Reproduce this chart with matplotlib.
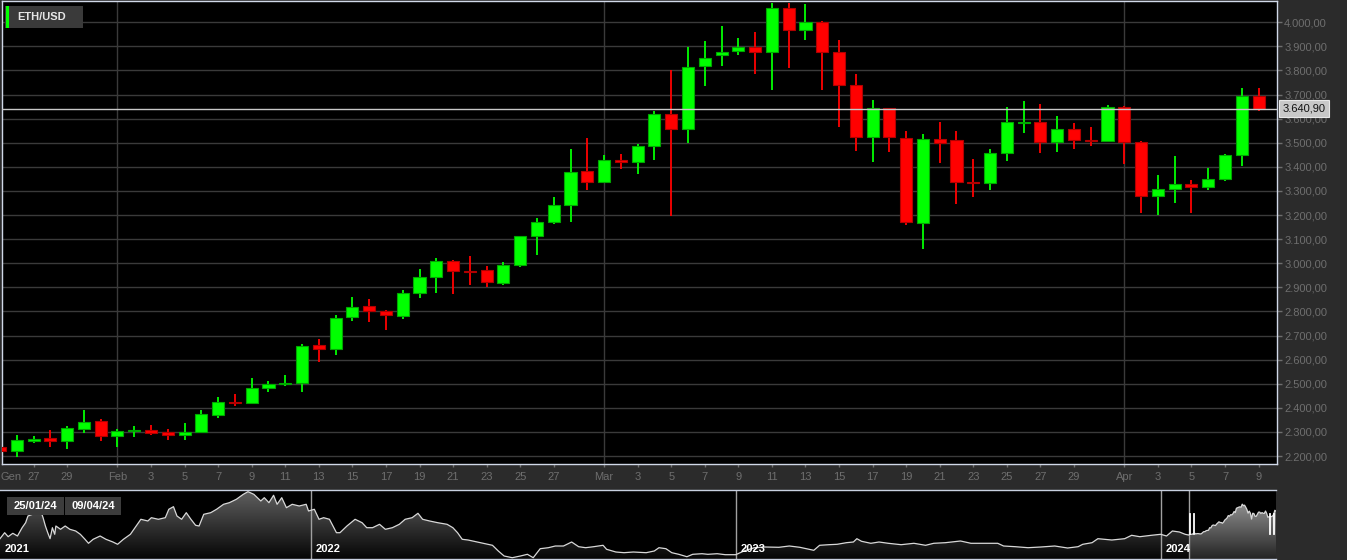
import numpy as np
import pandas as pd
import matplotlib
matplotlib.use('Agg')
import matplotlib.pyplot as plt
import matplotlib.dates as mdates
from matplotlib.patches import Polygon, Rectangle

plt.rcParams['font.family'] = ['Liberation Sans', 'DejaVu Sans']

# daily ETH/USD candles, 25 Jan - 9 Apr 2024
dates = pd.date_range('2024-01-25', '2024-04-09', freq='D')
opens = [2239, 2221, 2263, 2274, 2264, 2313, 2345,
         2283, 2304, 2307, 2298, 2288, 2300, 2372, 2426, 2422, 2483, 2497, 2505, 2659, 2644,
         2775, 2822, 2800, 2783, 2877, 2944, 3009, 2967, 2971, 2920, 2993, 3112, 3173, 3240, 3381,
         3339, 3430, 3419, 3487, 3619, 3556, 3818, 3866, 3880, 3899, 3877, 4057, 3968, 4001, 3878,
         3741, 3522, 3643, 3519, 3165, 3517, 3510, 3336, 3331, 3458, 3582, 3584, 3501, 3556, 3511, 3509,
         3650, 3505, 3280, 3310, 3327, 3317, 3350, 3451, 3693]
highs = [2246, 2286, 2283, 2307, 2324, 2390, 2353,
         2312, 2324, 2327, 2312, 2337, 2390, 2444, 2456, 2522, 2513, 2538, 2665, 2687, 2784,
         2858, 2850, 2806, 2890, 2975, 3020, 3013, 3032, 2989, 3006, 3113, 3189, 3273, 3476, 3518,
         3451, 3455, 3495, 3631, 3803, 3899, 3924, 3986, 3936, 3960, 4081, 4081, 4077, 4007, 3928,
         3787, 3679, 3645, 3547, 3538, 3588, 3547, 3433, 3472, 3650, 3675, 3662, 3610, 3583, 3567, 3658,
         3652, 3507, 3368, 3443, 3347, 3396, 3455, 3729, 3725]
lows = [2160, 2197, 2253, 2237, 2230, 2297, 2263,
        2239, 2280, 2286, 2265, 2268, 2298, 2356, 2406, 2420, 2466, 2489, 2466, 2591, 2620,
        2760, 2755, 2722, 2770, 2854, 2875, 2871, 2908, 2902, 2908, 2985, 3036, 3161, 3173, 3302,
        3335, 3391, 3370, 3430, 3198, 3500, 3736, 3818, 3866, 3787, 3720, 3812, 3928, 3720, 3566,
        3466, 3418, 3462, 3157, 3061, 3414, 3246, 3273, 3303, 3423, 3542, 3459, 3463, 3472, 3488, 3505,
        3410, 3210, 3200, 3251, 3209, 3303, 3340, 3405, 3631]
closes = [2221, 2265, 2269, 2264, 2315, 2342, 2284,
          2304, 2308, 2296, 2287, 2301, 2374, 2425, 2421, 2481, 2497, 2502, 2658, 2643, 2774,
          2819, 2803, 2786, 2876, 2941, 3009, 2968, 2965, 2923, 2993, 3112, 3170, 3240, 3379, 3339,
          3430, 3419, 3487, 3620, 3558, 3815, 3850, 3878, 3899, 3878, 4057, 3968, 3999, 3878, 3741,
          3522, 3646, 3522, 3170, 3517, 3500, 3335, 3333, 3457, 3584, 3586, 3501, 3556, 3512, 3508, 3650,
          3505, 3278, 3310, 3327, 3317, 3350, 3449, 3693, 3640.90]

y_ticks = list(range(2200, 4001, 100))
tick_dates = ['2024-01-27', '2024-01-29',
              '2024-02-01', '2024-02-03', '2024-02-05', '2024-02-07', '2024-02-09', '2024-02-11',
              '2024-02-13', '2024-02-15', '2024-02-17', '2024-02-19', '2024-02-21', '2024-02-23',
              '2024-02-25', '2024-02-27',
              '2024-03-01', '2024-03-03', '2024-03-05', '2024-03-07', '2024-03-09', '2024-03-11',
              '2024-03-13', '2024-03-15', '2024-03-17', '2024-03-19', '2024-03-21', '2024-03-23',
              '2024-03-25', '2024-03-27', '2024-03-29',
              '2024-04-01', '2024-04-03', '2024-04-05', '2024-04-07', '2024-04-09']
month_names = {1: 'Gen', 2: 'Feb', 3: 'Mar', 4: 'Apr'}

# navigator history (close, days after 2021-04-09)
nav_start = '2021-04-09'
nav_end = '2024-04-09'
nav_days = [0, 4, 7, 11, 15, 19, 22, 24, 28, 32,
            35, 37, 39, 41, 43, 45, 47, 48, 52, 56,
            60, 65, 69, 73, 76, 80, 86, 91, 97, 101,
            106, 112, 117, 121, 127, 130, 136, 142, 145, 149,
            152, 156, 160, 164, 168, 171, 175, 181, 186, 192,
            197, 203, 209, 213, 218, 224, 227, 231, 235, 238,
            242, 246, 251, 257, 263, 265, 270, 274, 278, 283,
            289, 292, 298, 305, 311, 315, 320, 326, 331, 337,
            343, 348, 354, 359, 363, 369, 376, 384, 389, 393,
            397, 402, 410, 415, 423, 428, 433, 440, 447, 453,
            458, 464, 471, 477, 484, 491, 497, 503, 510, 518,
            521, 529, 536, 544, 555, 562, 566, 572, 577, 583,
            590, 595, 603, 608, 616, 623, 632, 639, 648, 657,
            669, 678, 687, 699, 704, 712, 719, 727, 733, 736,
            740, 748, 755, 763, 774, 785, 795, 802, 812, 825,
            834, 846, 857, 862, 872, 883, 894, 906, 917, 926,
            930, 938, 943, 955, 966, 972, 979, 989, 997, 1002,
            1007, 1013, 1018]
nav_vals = [2004, 2360, 2122, 2325, 2164, 2658, 2955, 3354, 3455, 3753,
            3652, 3253, 2759, 2360, 2004, 2658, 2265, 2759, 2563, 2759,
            2563, 2462, 2265, 1968, 1730, 1968, 2164, 1968, 1807, 1670,
            1968, 2265, 2759, 3158, 3057, 3253, 3158, 3253, 3753, 3908,
            3354, 3158, 3551, 3158, 2801, 2759, 3455, 3551, 3753, 4050,
            4146, 4348, 4645, 4800, 4645, 4247, 4443, 4146, 4586, 4050,
            4443, 3848, 4050, 3949, 4050, 3652, 3753, 3158, 3253, 3158,
            2360, 2360, 2759, 3158, 2955, 2658, 2658, 2860, 2563, 2658,
            2860, 3158, 3253, 3515, 3158, 3057, 2955, 2860, 2658, 2360,
            1968, 1926, 1807, 1730, 1611, 1272, 974, 873, 974, 1075,
            873, 1409, 1468, 1569, 1569, 1807, 1528, 1468, 1528, 1611,
            1373, 1212, 1171, 1212, 1171, 1272, 1468, 1409, 1171, 1075,
            932, 1075, 1111, 1075, 1111, 1052, 1052, 1272, 1468, 1510,
            1492, 1569, 1492, 1313, 1611, 1647, 1670, 1766, 1807, 2004,
            1849, 1730, 1807, 1730, 1647, 1730, 1611, 1730, 1766, 1867,
            1730, 1730, 1730, 1569, 1528, 1468, 1510, 1569, 1450, 1528,
            1670, 1766, 2004, 1926, 2004, 2206, 2122, 2206, 2265, 2164,
            2462, 2402, 2265]
nav_years = [2021, 2022, 2023, 2024]


def it_fmt(v):
    return f"{v:,.2f}".replace(',', 'X').replace('.', ',').replace('X', '.')


def gradient_fill(ax, xs, ys, top, bot, ylo, yhi):
    verts = np.column_stack([np.r_[xs[0], xs, xs[-1]], np.r_[ylo, ys, ylo]])
    poly = Polygon(verts, closed=True, fc='none', ec='none')
    ax.add_patch(poly)
    g = np.linspace(0, 1, 256)[:, None, None]
    img = np.array(top)[None, None, :] * (1 - g) + np.array(bot)[None, None, :] * g
    im = ax.imshow(img, aspect='auto', extent=[xs[0], xs[-1], ylo, yhi], origin='upper', zorder=1)
    im.set_clip_path(poly)


W, H = 1347, 560
fig = plt.figure(figsize=(W / 100, H / 100), dpi=100, facecolor='#2b2b2b')

# ---- main candle chart
ax = fig.add_axes([2 / W, 1 - 464 / H, 1275 / W, 463 / H], facecolor='black')
x = mdates.date2num(dates)
o, h, l, c = map(np.array, (opens, highs, lows, closes))
up = c >= o
col = np.where(up, '#00ff00', '#ff0000')
edge = np.where(up, '#00a800', '#b00000')
bh = np.maximum(np.abs(c - o), 4)
bb = (o + c) / 2 - bh / 2

for m in ['2024-02-01', '2024-03-01', '2024-04-01']:
    ax.axvline(mdates.date2num(pd.Timestamp(m)), color='#3a3a3a', lw=1, zorder=0)
ax.set_yticks(y_ticks)
ax.yaxis.grid(True, color='#3a3a3a', lw=1)
ax.set_axisbelow(True)

ax.vlines(x, l, h, colors=col, lw=1.3, zorder=2)
ax.bar(x, bh, bottom=bb, width=0.72, color=col, edgecolor=edge, linewidth=0.8, zorder=3)

last = closes[-1]
ax.axhline(last, color='#c8c8c8', lw=1, zorder=4)
ax.annotate(it_fmt(last), xy=(1, last), xycoords=('axes fraction', 'data'),
            xytext=(3.8, 0), textcoords='offset points', ha='left', va='center',
            fontsize=8, color='#111111', annotation_clip=False, zorder=6,
            bbox=dict(boxstyle='square,pad=0.3', fc='#c8c8c8', ec='#e8e8e8', lw=0.8))

ax.set_xlim(x[0] + 0.12, x[-1] + 1.1)
ax.set_ylim(2167, 4088)
ax.yaxis.tick_right()
ax.set_yticklabels([it_fmt(v) for v in y_ticks])
ax.tick_params(axis='y', length=3.6, width=1, color='#6e6e6e', labelcolor='#6e6e6e',
               labelsize=8, pad=1.5)

td = pd.to_datetime(tick_dates)
ax.set_xticks(mdates.date2num(td))
ax.set_xticklabels([month_names[d.month] if d.day == 1 else str(d.day) for d in td])
ax.tick_params(axis='x', length=2.2, width=1, color='#6e6e6e', labelcolor='#6e6e6e',
               labelsize=8, pad=3.4)
ax.annotate(month_names[dates[0].month], xy=(0, 0), xycoords='axes fraction',
            xytext=(-1, -9), textcoords='offset points', ha='left', va='center',
            fontsize=8, color='#6e6e6e', annotation_clip=False)
for s in ax.spines.values():
    s.set_color('#d0d8e8')
    s.set_linewidth(1)

# legend tag
fig.add_artist(Rectangle((5 / W, 1 - 27.5 / H), 78 / W, 21.5 / H, transform=fig.transFigure,
                         fc='#3a3a3a', ec='none'))
fig.add_artist(Rectangle((5.5 / W, 1 - 27.5 / H), 3.2 / W, 21.5 / H, transform=fig.transFigure,
                         fc='#00ff00', ec='none'))
fig.text(17.5 / W, 1 - 17.3 / H, 'ETH/USD', ha='left', va='center', fontsize=8,
         fontweight='bold', color='#e6e6e6')

# ---- navigator
nav = fig.add_axes([0, 1 - 559 / H, 1276 / W, 69 / H], facecolor='black')
ylo, yhi = 796, 4900
hist_x = mdates.date2num(pd.Timestamp(nav_start) + pd.to_timedelta(nav_days, unit='D'))
hx = np.r_[hist_x, x[0]]
hy = np.r_[nav_vals, c[0]]
gradient_fill(nav, hx, hy, (0.38, 0.38, 0.38), (0.02, 0.02, 0.02), ylo, yhi)
gradient_fill(nav, x, c, (0.66, 0.66, 0.66), (0.14, 0.14, 0.14), ylo, yhi)
nav.plot(np.r_[hx, x[1:]], np.r_[hy, c[1:]], color='#d8d8d8', lw=0.9, zorder=3)

x0n = mdates.date2num(pd.Timestamp(nav_start))
for yr in nav_years:
    xd = max(mdates.date2num(pd.Timestamp(f'{yr}-01-01')), x0n)
    if xd > x0n:
        nav.axvline(xd, color='#a0a0a0', lw=1, zorder=2)
    nav.annotate(str(yr), xy=(xd, 0), xycoords=('data', 'axes fraction'),
                 xytext=(3.6, 7.2), textcoords='offset points', ha='left', va='center',
                 fontsize=8, fontweight='bold', color='white', zorder=5)
nav.axvline(x[0], color='#a0a0a0', lw=1, zorder=2)

# selection handles
for xv in [x[0] + 1.4, x[0] + 4.4, x[-1] - 5.2, x[-1] - 2.0]:
    nav.axvline(xv, ymin=0.36, ymax=0.65, color='white', lw=1.3, zorder=6)

nav.set_xlim(x0n, mdates.date2num(pd.Timestamp(nav_end)))
nav.set_ylim(ylo, yhi)
nav.set_xticks([])
nav.set_yticks([])
for k, s in nav.spines.items():
    s.set_visible(k in ('top', 'bottom'))
    s.set_color('#c8d0e0')
    s.set_linewidth(1)

# selected range date boxes
for bx, bw, txt in [(7, 57, dates[0].strftime('%d/%m/%y')), (65, 56, dates[-1].strftime('%d/%m/%y'))]:
    fig.add_artist(Rectangle((bx / W, 1 - 515 / H), bw / W, 18 / H, transform=fig.transFigure,
                             fc='#3c3c3c', ec='none', zorder=5))
    fig.text((bx + bw / 2) / W, 1 - 506 / H, txt, ha='center', va='center', fontsize=8,
             fontweight='bold', color='white', zorder=6)

fig.savefig('out.png', dpi=100, facecolor=fig.get_facecolor())
